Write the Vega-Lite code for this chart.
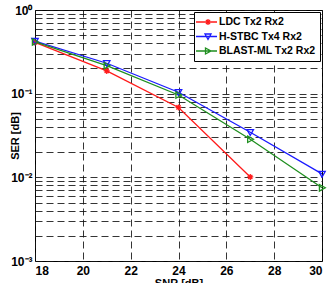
{
  "$schema": "https://vega.github.io/schema/vega-lite/v6.json",
  "width": 287,
  "height": 251,
  "autosize": {"type": "none"},
  "padding": {"left": 35, "top": 10, "right": 6, "bottom": 22},
  "background": "white",
  "config": {
    "font": "Liberation Sans",
    "view": {"stroke": "black", "strokeWidth": 1},
    "axis": {
      "labelFont": "Liberation Sans",
      "labelFontWeight": "bold",
      "labelFontSize": 12,
      "labelColor": "black",
      "titleFont": "Liberation Sans",
      "titleFontWeight": "bold",
      "titleFontSize": 11,
      "titleColor": "black",
      "grid": true,
      "gridColor": "#111111",
      "gridDash": [7, 4],
      "gridWidth": 1,
      "gridOpacity": 0.85,
      "domain": false,
      "ticks": false
    },
    "legend": {
      "labelFont": "Liberation Sans",
      "labelFontWeight": "bold",
      "labelFontSize": 10.5,
      "labelColor": "black"
    }
  },
  "data": {
    "values": [
      {"snr": 18, "ser": 0.41, "series": "LDC Tx2 Rx2"},
      {"snr": 21, "ser": 0.187, "series": "LDC Tx2 Rx2"},
      {"snr": 24, "ser": 0.0685, "series": "LDC Tx2 Rx2"},
      {"snr": 27, "ser": 0.0101, "series": "LDC Tx2 Rx2"},
      {"snr": 18, "ser": 0.425, "series": "H-STBC Tx4 Rx2"},
      {"snr": 21, "ser": 0.231, "series": "H-STBC Tx4 Rx2"},
      {"snr": 24, "ser": 0.104, "series": "H-STBC Tx4 Rx2"},
      {"snr": 27, "ser": 0.0346, "series": "H-STBC Tx4 Rx2"},
      {"snr": 30, "ser": 0.011, "series": "H-STBC Tx4 Rx2"},
      {"snr": 18, "ser": 0.415, "series": "BLAST-ML Tx2 Rx2"},
      {"snr": 21, "ser": 0.216, "series": "BLAST-ML Tx2 Rx2"},
      {"snr": 24, "ser": 0.0965, "series": "BLAST-ML Tx2 Rx2"},
      {"snr": 27, "ser": 0.0285, "series": "BLAST-ML Tx2 Rx2"},
      {"snr": 30, "ser": 0.0075, "series": "BLAST-ML Tx2 Rx2"}
    ]
  },
  "encoding": {
    "x": {
      "field": "snr",
      "type": "quantitative",
      "scale": {"domain": [18, 30], "nice": false, "zero": false},
      "axis": {
        "title": "SNR [dB]",
        "values": [18, 20, 22, 24, 26, 28, 30],
        "labelPadding": 4,
        "titlePadding": 1
      }
    },
    "y": {
      "field": "ser",
      "type": "quantitative",
      "scale": {"type": "log", "domain": [0.001, 1], "nice": false},
      "axis": {
        "title": "SER [dB]",
        "values": [0.001, 0.002, 0.003, 0.004, 0.005, 0.006, 0.007, 0.008, 0.009,
                   0.01, 0.02, 0.03, 0.04, 0.05, 0.06, 0.07, 0.08, 0.09,
                   0.1, 0.2, 0.3, 0.4, 0.5, 0.6, 0.7, 0.8, 0.9, 1],
        "labelExpr": "datum.value == 1 ? '10⁰' : datum.value == 0.1 ? '10⁻¹' : datum.value == 0.01 ? '10⁻²' : datum.value == 0.001 ? '10⁻³' : ''",
        "labelPadding": 3,
        "titlePadding": 0,
        "titleX": -15
      }
    },
    "color": {
      "field": "series",
      "type": "nominal",
      "scale": {
        "domain": ["LDC Tx2 Rx2", "H-STBC Tx4 Rx2", "BLAST-ML Tx2 Rx2"],
        "range": ["#ff1a1a", "#1a1aff", "#1f8f1f"]
      },
      "legend": {
        "title": null,
        "orient": "top-right",
        "offset": 2,
        "padding": 4,
        "fillColor": "white",
        "strokeColor": "black",
        "labelOffset": 9,
        "rowPadding": 2.5,
        "symbolSize": 100,
        "symbolStrokeWidth": 1.3
      }
    }
  },
  "layer": [
    {
      "mark": {"type": "line", "strokeWidth": 1.3}
    },
    {
      "mark": {"type": "point", "filled": false, "strokeWidth": 1.3, "size": 0, "opacity": 1},
      "encoding": {
        "shape": {
          "field": "series",
          "type": "nominal",
          "scale": {
            "domain": ["LDC Tx2 Rx2", "H-STBC Tx4 Rx2", "BLAST-ML Tx2 Rx2"],
            "range": [
              "M-1.6,0H2.6M0.2,0H1.4M0.8,-0.6V0.6M0.38,-0.42L1.22,0.42M0.38,0.42L1.22,-0.42",
              "M-1.6,0H2.6M0.2,-0.5L1.4,-0.5L0.8,0.6Z",
              "M-1.6,0H2.6M0.3,-0.6L1.4,0L0.3,0.6Z"
            ]
          },
          "legend": {
            "title": null,
            "orient": "top-right",
            "offset": 2,
            "padding": 4,
            "fillColor": "white",
            "strokeColor": "black",
            "labelOffset": 9,
            "rowPadding": 2.5,
            "symbolSize": 100,
            "symbolStrokeWidth": 1.3
          }
        }
      }
    },
    {
      "transform": [{"filter": {"field": "series", "equal": "LDC Tx2 Rx2"}}],
      "mark": {"type": "point", "filled": false, "strokeWidth": 1.3, "size": 36, "opacity": 1,
               "shape": "M-1,0H1M0,-1V1M-0.7,-0.7L0.7,0.7M-0.7,0.7L0.7,-0.7"}
    },
    {
      "transform": [{"filter": {"field": "series", "equal": "H-STBC Tx4 Rx2"}}],
      "mark": {"type": "point", "filled": false, "strokeWidth": 1.3, "size": 42, "opacity": 1,
               "shape": "M-1,-0.8L1,-0.8L0,1Z"}
    },
    {
      "transform": [{"filter": {"field": "series", "equal": "BLAST-ML Tx2 Rx2"}}],
      "mark": {"type": "point", "filled": false, "strokeWidth": 1.3, "size": 42, "opacity": 1,
               "shape": "M-0.8,-1L1,0L-0.8,1Z"}
    }
  ]
}
